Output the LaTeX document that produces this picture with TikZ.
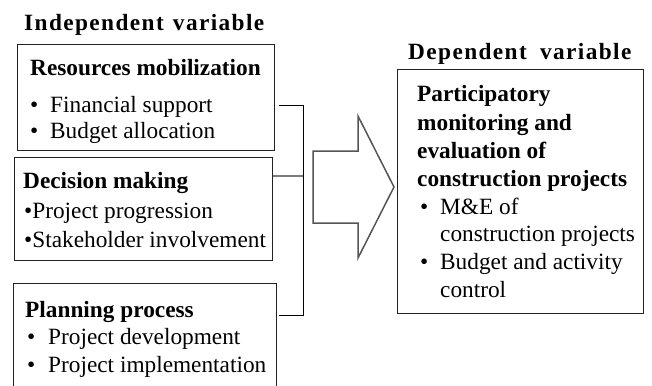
\documentclass[tikz,border=0pt]{standalone}
\usepackage{fontspec}
\setmainfont{Liberation Serif}
\definecolor{boxc}{HTML}{222222}
\definecolor{tickc}{HTML}{7A7A7A}
\definecolor{arrc}{HTML}{555555}
\begin{document}
\begin{tikzpicture}[x=1pt,y=-1pt,
  box/.style={draw=boxc, line width=1.4pt, inner sep=0pt, anchor=north west},
  txt/.style={inner sep=0pt, anchor=base west, font=\fontsize{23.3}{27}\selectfont},
  hd/.style={inner sep=0pt, anchor=base west, font=\fontsize{23.3}{27}\selectfont\bfseries},
  ttl/.style={inner sep=0pt, anchor=base west, font=\fontsize{23.3}{27}\selectfont\bfseries\addfontfeature{LetterSpace=6}},
  bracket/.style={draw=black, line width=1pt},
  midtick/.style={draw=tickc, line width=2.5pt},
  bigarrow/.style={draw=arrc, line width=1.5pt, line join=miter}]
\useasboundingbox (0,0) rectangle (652,385);
\clip (0,0) rectangle (652,385);
\fill[white] (0,0) rectangle (652,385);

% column titles
\node[ttl] (indep) at (24,31) {Independent\hspace{2pt} variable};
\node[ttl] (dep) at (408,60) {Dependent\hspace{6pt} variable};

% independent variable boxes
\node[box, minimum width=257pt, minimum height=106pt] (rm) at (17,44) {};
\node[hd]  (rmh) at (30,76)  {Resources mobilization};
\node[txt] (rmb1) at (30,113) {•};
\node[txt] (rmt1) at (50,113) {Financial support};
\node[txt] (rmb2) at (30,138) {•};
\node[txt] (rmt2) at (50,138) {Budget allocation};

\node[box, minimum width=258pt, minimum height=103pt] (dm) at (14,157) {};
\node[hd]  (dmh) at (23,188) {Decision making};
\node[txt] (dmt1) at (24,218) {•Project progression};
\node[txt] (dmt2) at (24,247) {•Stakeholder involvement};

\node[box, minimum width=263pt, minimum height=130pt] (pp) at (13,283) {};
\node[hd]  (pph) at (25,317) {Planning process};
\node[txt] (ppb1) at (27,344) {•};
\node[txt] (ppt1) at (48,344) {Project development};
\node[txt] (ppb2) at (27,372) {•};
\node[txt] (ppt2) at (48,372) {Project implementation};

% dependent variable box
\node[box, minimum width=246pt, minimum height=244pt] (dv) at (397,69) {};
\node[hd]  (dv1) at (417,102) {Participatory};
\node[hd]  (dv2) at (417,130) {monitoring and};
\node[hd]  (dv3) at (417,158) {evaluation of};
\node[hd]  (dv4) at (417,186) {construction projects};
\node[txt] (dvb1) at (420,214) {•};
\node[txt] (dvt1) at (440,214) {M\&E of};
\node[txt] (dvt2) at (440,241) {construction projects};
\node[txt] (dvb2) at (420,269) {•};
\node[txt] (dvt3) at (440,269) {Budget and activity};
\node[txt] (dvt4) at (440,297) {control};

% bracket joining the three factors
\coordinate (jtop) at (303,105);
\coordinate (jmid) at (303,176);
\coordinate (jbot) at (303,315);
\draw[bracket] ([xshift=4pt]rm.east |- jtop) -- (jtop) -- (jbot) -- ([xshift=2pt]pp.east |- jbot);
\draw[midtick] (dm.east |- jmid) -- (jmid);

% block arrow towards the dependent variable
\coordinate (a1) at (313,151);
\coordinate (a2) at (358,151);
\coordinate (a3) at (358,116);
\coordinate (tip) at (394,187);
\coordinate (a5) at (358,258);
\coordinate (a6) at (358,223);
\coordinate (a7) at (313,223);
\draw[bigarrow] (a1) -- (a2) -- (a3) -- (tip) -- (a5) -- (a6) -- (a7) -- cycle;
\end{tikzpicture}
\end{document}
